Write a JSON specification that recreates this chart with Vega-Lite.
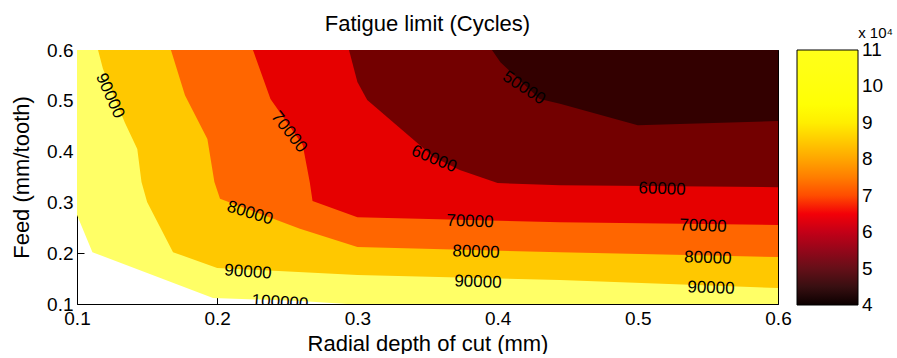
{
  "$schema": "https://vega.github.io/schema/vega-lite/v6.json",
  "padding": {"left": 10, "top": 13, "right": 0, "bottom": 0},
  "background": "white",
  "width": 701,
  "height": 254,
  "config": {
    "font": "Liberation Sans",
    "view": {"stroke": null},
    "title": {"fontWeight": "normal", "color": "black"},
    "axis": {"domainColor": "black", "tickColor": "black", "labelColor": "black", "titleColor": "black", "grid": false, "zindex": 1, "titleFontWeight": "normal", "labelFlush": false, "labelOverlap": false, "domainWidth": 1, "tickWidth": 1}
  },
  "datasets": {
    "poly": [
      {"level": 100000, "i": 0, "x": 0.1, "y": 0.275},
      {"level": 100000, "i": 1, "x": 0.111, "y": 0.202},
      {"level": 100000, "i": 2, "x": 0.197, "y": 0.112},
      {"level": 100000, "i": 3, "x": 0.259, "y": 0.106},
      {"level": 100000, "i": 4, "x": 0.293, "y": 0.1},
      {"level": 100000, "i": 5, "x": 0.6, "y": 0.1},
      {"level": 100000, "i": 6, "x": 0.6, "y": 0.6},
      {"level": 100000, "i": 7, "x": 0.1, "y": 0.6},
      {"level": 90000, "i": 0, "x": 0.115, "y": 0.6},
      {"level": 90000, "i": 1, "x": 0.1185, "y": 0.563},
      {"level": 90000, "i": 2, "x": 0.134, "y": 0.458},
      {"level": 90000, "i": 3, "x": 0.143, "y": 0.405},
      {"level": 90000, "i": 4, "x": 0.146, "y": 0.34},
      {"level": 90000, "i": 5, "x": 0.15, "y": 0.301},
      {"level": 90000, "i": 6, "x": 0.1685, "y": 0.202},
      {"level": 90000, "i": 7, "x": 0.2, "y": 0.171},
      {"level": 90000, "i": 8, "x": 0.3, "y": 0.157},
      {"level": 90000, "i": 9, "x": 0.4445, "y": 0.147},
      {"level": 90000, "i": 10, "x": 0.6, "y": 0.1315},
      {"level": 90000, "i": 11, "x": 0.6, "y": 0.6},
      {"level": 80000, "i": 0, "x": 0.167, "y": 0.6},
      {"level": 80000, "i": 1, "x": 0.177, "y": 0.511},
      {"level": 80000, "i": 2, "x": 0.193, "y": 0.425},
      {"level": 80000, "i": 3, "x": 0.198, "y": 0.34},
      {"level": 80000, "i": 4, "x": 0.202, "y": 0.307},
      {"level": 80000, "i": 5, "x": 0.259, "y": 0.248},
      {"level": 80000, "i": 6, "x": 0.3, "y": 0.212},
      {"level": 80000, "i": 7, "x": 0.4445, "y": 0.202},
      {"level": 80000, "i": 8, "x": 0.6, "y": 0.1925},
      {"level": 80000, "i": 9, "x": 0.6, "y": 0.6},
      {"level": 70000, "i": 0, "x": 0.2255, "y": 0.6},
      {"level": 70000, "i": 1, "x": 0.238, "y": 0.5035},
      {"level": 70000, "i": 2, "x": 0.261, "y": 0.413},
      {"level": 70000, "i": 3, "x": 0.266, "y": 0.34},
      {"level": 70000, "i": 4, "x": 0.268, "y": 0.303},
      {"level": 70000, "i": 5, "x": 0.3, "y": 0.271},
      {"level": 70000, "i": 6, "x": 0.4445, "y": 0.261},
      {"level": 70000, "i": 7, "x": 0.6, "y": 0.2555},
      {"level": 70000, "i": 8, "x": 0.6, "y": 0.6},
      {"level": 60000, "i": 0, "x": 0.294, "y": 0.6},
      {"level": 60000, "i": 1, "x": 0.3, "y": 0.537},
      {"level": 60000, "i": 2, "x": 0.307, "y": 0.5016},
      {"level": 60000, "i": 3, "x": 0.3546, "y": 0.389},
      {"level": 60000, "i": 4, "x": 0.373, "y": 0.364},
      {"level": 60000, "i": 5, "x": 0.4, "y": 0.338},
      {"level": 60000, "i": 6, "x": 0.4445, "y": 0.334},
      {"level": 60000, "i": 7, "x": 0.6, "y": 0.33},
      {"level": 60000, "i": 8, "x": 0.6, "y": 0.6},
      {"level": 50000, "i": 0, "x": 0.396, "y": 0.6},
      {"level": 50000, "i": 1, "x": 0.402, "y": 0.576},
      {"level": 50000, "i": 2, "x": 0.43, "y": 0.5035},
      {"level": 50000, "i": 3, "x": 0.4445, "y": 0.494},
      {"level": 50000, "i": 4, "x": 0.5, "y": 0.452},
      {"level": 50000, "i": 5, "x": 0.6, "y": 0.46},
      {"level": 50000, "i": 6, "x": 0.6, "y": 0.6}
    ],
    "labels": [
      {"id": 1, "x": 0.1235, "y": 0.51, "t": "90000"},
      {"id": 2, "x": 0.2512, "y": 0.4386, "t": "70000"},
      {"id": 3, "x": 0.4188, "y": 0.5252, "t": "50000"},
      {"id": 4, "x": 0.3546, "y": 0.3854, "t": "60000"},
      {"id": 5, "x": 0.2234, "y": 0.2791, "t": "80000"},
      {"id": 6, "x": 0.222, "y": 0.163, "t": "90000"},
      {"id": 7, "x": 0.2448, "y": 0.103, "t": "100000"},
      {"id": 8, "x": 0.3803, "y": 0.2624, "t": "70000"},
      {"id": 9, "x": 0.3846, "y": 0.2024, "t": "80000"},
      {"id": 10, "x": 0.386, "y": 0.1433, "t": "90000"},
      {"id": 11, "x": 0.5173, "y": 0.3264, "t": "60000"},
      {"id": 12, "x": 0.5465, "y": 0.2535, "t": "70000"},
      {"id": 13, "x": 0.55, "y": 0.1906, "t": "80000"},
      {"id": 14, "x": 0.5522, "y": 0.1315, "t": "90000"}
    ],
    "cbar": [{"v": 4}, {"v": 11}]
  },
  "title": {"text": "Fatigue limit (Cycles)", "fontSize": 22, "offset": -10},
  "encoding": {
    "x": {"field": "x", "type": "quantitative", "scale": {"domain": [0.1, 0.6], "nice": false, "zero": false}, "axis": null},
    "y": {"field": "y", "type": "quantitative", "scale": {"domain": [0.1, 0.6], "nice": false, "zero": false}, "axis": null}
  },
  "layer": [
    {
      "data": {"name": "poly"},
      "transform": [{"filter": "datum.level == 100000"}],
      "mark": {"type": "line", "filled": true, "color": "#ffff66", "strokeWidth": 0, "clip": true},
      "encoding": {
        "x": {"field": "x", "type": "quantitative", "scale": {"domain": [0.1, 0.6], "nice": false, "zero": false},
          "axis": {"orient": "bottom", "values": [0.1, 0.2, 0.3, 0.4, 0.5, 0.6], "format": ".1f", "tickSize": -7, "labelFontSize": 19, "labelPadding": 12, "title": "Radial depth of cut (mm)", "titleFontSize": 22, "titlePadding": 5}},
        "y": {"field": "y", "type": "quantitative", "scale": {"domain": [0.1, 0.6], "nice": false, "zero": false},
          "axis": {"orient": "left", "values": [0.1, 0.2, 0.3, 0.4, 0.5, 0.6], "format": ".1f", "tickSize": -7, "labelFontSize": 19, "labelPadding": 11, "title": "Feed (mm/tooth)", "titleFontSize": 22, "titlePadding": 13}},
        "order": {"field": "i"}
      }
    },
    {
      "data": {"name": "poly"},
      "transform": [{"filter": "datum.level == 90000"}],
      "mark": {"type": "line", "filled": true, "color": "#ffc800", "strokeWidth": 0, "clip": true},
      "encoding": {"order": {"field": "i"}}
    },
    {
      "data": {"name": "poly"},
      "transform": [{"filter": "datum.level == 80000"}],
      "mark": {"type": "line", "filled": true, "color": "#ff6600", "strokeWidth": 0, "clip": true},
      "encoding": {"order": {"field": "i"}}
    },
    {
      "data": {"name": "poly"},
      "transform": [{"filter": "datum.level == 70000"}],
      "mark": {"type": "line", "filled": true, "color": "#e60000", "strokeWidth": 0, "clip": true},
      "encoding": {"order": {"field": "i"}}
    },
    {
      "data": {"name": "poly"},
      "transform": [{"filter": "datum.level == 60000"}],
      "mark": {"type": "line", "filled": true, "color": "#730000", "strokeWidth": 0, "clip": true},
      "encoding": {"order": {"field": "i"}}
    },
    {
      "data": {"name": "poly"},
      "transform": [{"filter": "datum.level == 50000"}],
      "mark": {"type": "line", "filled": true, "color": "#330000", "strokeWidth": 0, "clip": true},
      "encoding": {"order": {"field": "i"}}
    },
    {
      "data": {"name": "labels"},
      "transform": [{"filter": "datum.id == 1"}],
      "mark": {"type": "text", "angle": 66, "fontSize": 17, "color": "black", "align": "center", "baseline": "middle", "clip": true},
      "encoding": {"text": {"field": "t"}}
    },
    {
      "data": {"name": "labels"},
      "transform": [{"filter": "datum.id == 2"}],
      "mark": {"type": "text", "angle": 52, "fontSize": 17, "color": "black", "align": "center", "baseline": "middle", "clip": true},
      "encoding": {"text": {"field": "t"}}
    },
    {
      "data": {"name": "labels"},
      "transform": [{"filter": "datum.id == 3"}],
      "mark": {"type": "text", "angle": 33, "fontSize": 17, "color": "black", "align": "center", "baseline": "middle", "clip": true},
      "encoding": {"text": {"field": "t"}}
    },
    {
      "data": {"name": "labels"},
      "transform": [{"filter": "datum.id == 4"}],
      "mark": {"type": "text", "angle": 22, "fontSize": 17, "color": "black", "align": "center", "baseline": "middle", "clip": true},
      "encoding": {"text": {"field": "t"}}
    },
    {
      "data": {"name": "labels"},
      "transform": [{"filter": "datum.id == 5"}],
      "mark": {"type": "text", "angle": 17, "fontSize": 17, "color": "black", "align": "center", "baseline": "middle", "clip": true},
      "encoding": {"text": {"field": "t"}}
    },
    {
      "data": {"name": "labels"},
      "transform": [{"filter": "datum.id == 6 || datum.id == 7"}],
      "mark": {"type": "text", "angle": 4, "fontSize": 17, "color": "black", "align": "center", "baseline": "middle", "clip": true},
      "encoding": {"text": {"field": "t"}}
    },
    {
      "data": {"name": "labels"},
      "transform": [{"filter": "datum.id >= 8"}],
      "mark": {"type": "text", "angle": 2, "fontSize": 17, "color": "black", "align": "center", "baseline": "middle", "clip": true},
      "encoding": {
        "text": {"field": "t"},
        "x": {"field": "x", "type": "quantitative", "scale": {"domain": [0.1, 0.6], "nice": false, "zero": false},
          "axis": {"orient": "top", "values": [0.1, 0.2, 0.3, 0.4, 0.5, 0.6], "tickSize": -7, "labels": false, "title": null}},
        "y": {"field": "y", "type": "quantitative", "scale": {"domain": [0.1, 0.6], "nice": false, "zero": false},
          "axis": {"orient": "right", "values": [0.1, 0.2, 0.3, 0.4, 0.5, 0.6], "tickSize": -7, "labels": false, "title": null}}
      }
    },
    {
      "data": {"name": "cbar"},
      "mark": {"type": "point", "opacity": 0},
      "encoding": {
        "x": {"datum": 0.1},
        "y": {"datum": 0.1},
        "color": {
          "field": "v", "type": "quantitative",
          "scale": {"domain": [4, 6.625, 9.25, 11], "range": ["#0b0000", "#ff0000", "#ffff00", "#ffffff"]},
          "legend": {
            "orient": "none", "legendX": 720, "legendY": -24, "direction": "vertical",
            "gradientLength": 255, "gradientThickness": 61,
            "gradientStrokeColor": "black", "gradientStrokeWidth": 1,
            "values": [4, 5, 6, 7, 8, 9, 10, 11],
            "labelFontSize": 19, "labelColor": "black", "labelOffset": 4, "labelOverlap": false, "labelBaseline": "middle",
            "title": "x 10⁴", "titleFontSize": 15, "titleFontWeight": "normal", "titleColor": "black", "titleAnchor": "end", "titlePadding": 9,
            "encode": {
              "labels": {"update": {"baseline": {"value": "middle"}}},
              "title": {"update": {"dx": {"value": 10}}}
            }
          }
        }
      }
    }
  ],
  "resolve": {"axis": {"x": "independent", "y": "independent"}}
}
